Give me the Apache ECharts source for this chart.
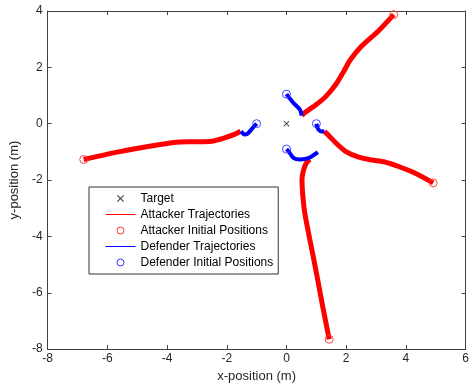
<!DOCTYPE html>
<html>
<head>
<meta charset="utf-8">
<script src="https://cdn.jsdelivr.net/npm/echarts@6/dist/echarts.min.js"></script>
<style>
html,body{margin:0;padding:0;background:#fff;}
#chart{width:472px;height:388px;}
</style>
</head>
<body>
<div id="chart"></div>
<script>
// ---- data (x, y in metres) ----
var target = [[0, 0]];

var attacker1 = [[3.59,3.87],[3.07,3.28],[2.51,2.75],[2.14,2.27],[1.92,1.86],[1.65,1.39],[1.32,0.97],[1.0,0.68],[0.61,0.39],[0.51,0.29]];
var attacker2 = [[4.91,-2.10],[4.28,-1.74],[3.73,-1.51],[3.29,-1.36],[2.85,-1.29],[2.42,-1.19],[1.98,-0.98],[1.65,-0.68],[1.38,-0.38],[1.27,-0.27]];
var attacker3 = [[1.43,-7.65],[1.21,-6.47],[1.0,-5.28],[0.78,-4.10],[0.61,-3.16],[0.54,-2.45],[0.52,-1.98],[0.58,-1.62],[0.67,-1.39],[0.78,-1.27]];
var attacker4 = [[-6.79,-1.27],[-5.67,-1.01],[-4.58,-0.80],[-3.70,-0.66],[-3.16,-0.64],[-2.50,-0.62],[-2.07,-0.50],[-1.74,-0.38],[-1.54,-0.27]];

var defender1 = [[0.0,1.05],[0.23,0.74],[0.45,0.50],[0.50,0.33],[0.51,0.29]];
var defender2 = [[1.0,0.0],[1.03,-0.12],[1.08,-0.22],[1.18,-0.28],[1.27,-0.25]];
var defender3 = [[0.0,-0.9],[0.07,-0.98],[0.23,-1.21],[0.45,-1.27],[0.67,-1.24],[0.83,-1.17],[1.05,-1.01]];
var defender4 = [[-1.0,0.0],[-1.13,-0.15],[-1.30,-0.35],[-1.41,-0.38],[-1.52,-0.27]];

var attackerTracks = [attacker1, attacker2, attacker3, attacker4];
var defenderTracks = [defender1, defender2, defender3, defender4];

var xTicks = [-8, -6, -4, -2, 0, 2, 4, 6];
var yTicks = [-8, -6, -4, -2, 0, 2, 4];

var legendNames = ['Target', 'Attacker Trajectories', 'Attacker Initial Positions', 'Defender Trajectories', 'Defender Initial Positions'];

// ---- chart ----
var RED = '#ff0000', BLUE = '#0000ff';
var FONT = 'Liberation Sans, Arial, Helvetica, sans-serif';
var AX = '#404040';

var series = [];
attackerTracks.forEach(function (tr) {
  series.push({ name: legendNames[1], type: 'line', data: tr, symbol: 'none', smooth: 0.25,
    lineStyle: { color: RED, width: 5 }, itemStyle: { color: RED }, z: 2, animation: false });
});
defenderTracks.forEach(function (tr) {
  series.push({ name: legendNames[3], type: 'line', data: tr, symbol: 'none', smooth: 0.25,
    lineStyle: { color: BLUE, width: 4 }, itemStyle: { color: BLUE }, z: 3, animation: false });
});
series.push({ name: legendNames[2], type: 'scatter', data: attackerTracks.map(function (t) { return t[0]; }),
  symbol: 'circle', symbolSize: 8,
  itemStyle: { color: 'rgba(0,0,0,0)', borderColor: '#ff3030', borderWidth: 0.9, opacity: 1 }, z: 4, animation: false });
series.push({ name: legendNames[4], type: 'scatter', data: defenderTracks.map(function (t) { return t[0]; }),
  symbol: 'circle', symbolSize: 8,
  itemStyle: { color: 'rgba(0,0,0,0)', borderColor: '#3030ff', borderWidth: 0.9, opacity: 1 }, z: 4, animation: false });
series.push({ name: legendNames[0], type: 'scatter', data: target,
  symbol: 'path://M0,1L1,0L5,4L9,0L10,1L6,5L10,9L9,10L5,6L1,10L0,9L4,5Z', symbolSize: 6,
  itemStyle: { color: '#000' }, z: 4, animation: false });

function axisBase(extra) {
  var o = {
    type: 'value',
    axisLine: { show: true, onZero: false, lineStyle: { color: AX, width: 1 } },
    axisTick: { show: true, inside: true, length: 4, lineStyle: { color: AX } },
    splitLine: { show: false },
    axisLabel: { color: '#262626', fontSize: 12, fontFamily: FONT },
    nameTextStyle: { color: '#262626', fontSize: 13, fontFamily: FONT }
  };
  for (var k in extra) o[k] = extra[k];
  return o;
}

var option = {
  backgroundColor: '#fff',
  animation: false,
  grid: { left: 42, right: 3, top: 11, bottom: 38, containLabel: false },
  xAxis: [
    axisBase({ min: xTicks[0], max: xTicks[xTicks.length - 1], interval: 2, position: 'bottom',
      name: 'x-position (m)', nameLocation: 'middle', nameGap: 19,
      axisLabel: { color: '#262626', fontSize: 12, fontFamily: FONT, margin: 4 } }),
    axisBase({ min: xTicks[0], max: xTicks[xTicks.length - 1], interval: 2, position: 'top',
      axisLabel: { show: false } })
  ],
  yAxis: [
    axisBase({ min: yTicks[0], max: yTicks[yTicks.length - 1], interval: 2, position: 'left',
      name: 'y-position (m)', nameLocation: 'middle', nameGap: 21,
      axisLabel: { color: '#262626', fontSize: 12, fontFamily: FONT, margin: 5 } }),
    axisBase({ min: yTicks[0], max: yTicks[yTicks.length - 1], interval: 2, position: 'right',
      axisLabel: { show: false } })
  ],
  legend: {
    orient: 'vertical', left: 89, top: 187,
    backgroundColor: '#fff', borderColor: '#333', borderWidth: 1,
    padding: [5, 5, 5, 16],
    itemWidth: 30, itemHeight: 7, itemGap: 3,
    textStyle: { fontSize: 12, fontFamily: FONT, color: '#000', lineHeight: 13 },
    selectedMode: false,
    data: [
      { name: legendNames[0] },
      { name: legendNames[1], lineStyle: { width: 1 }, itemStyle: { color: 'rgba(0,0,0,0)', borderWidth: 0, opacity: 0 } },
      { name: legendNames[2], itemStyle: { color: 'rgba(0,0,0,0)', borderColor: '#ff3030', borderWidth: 1 } },
      { name: legendNames[3], lineStyle: { width: 1 }, itemStyle: { color: 'rgba(0,0,0,0)', borderWidth: 0, opacity: 0 } },
      { name: legendNames[4], itemStyle: { color: 'rgba(0,0,0,0)', borderColor: '#3030ff', borderWidth: 1 } }
    ]
  },
  series: series
};

var chart = echarts.init(document.getElementById('chart'), null, { renderer: 'canvas' });
chart.setOption(option);
</script>
</body>
</html>
